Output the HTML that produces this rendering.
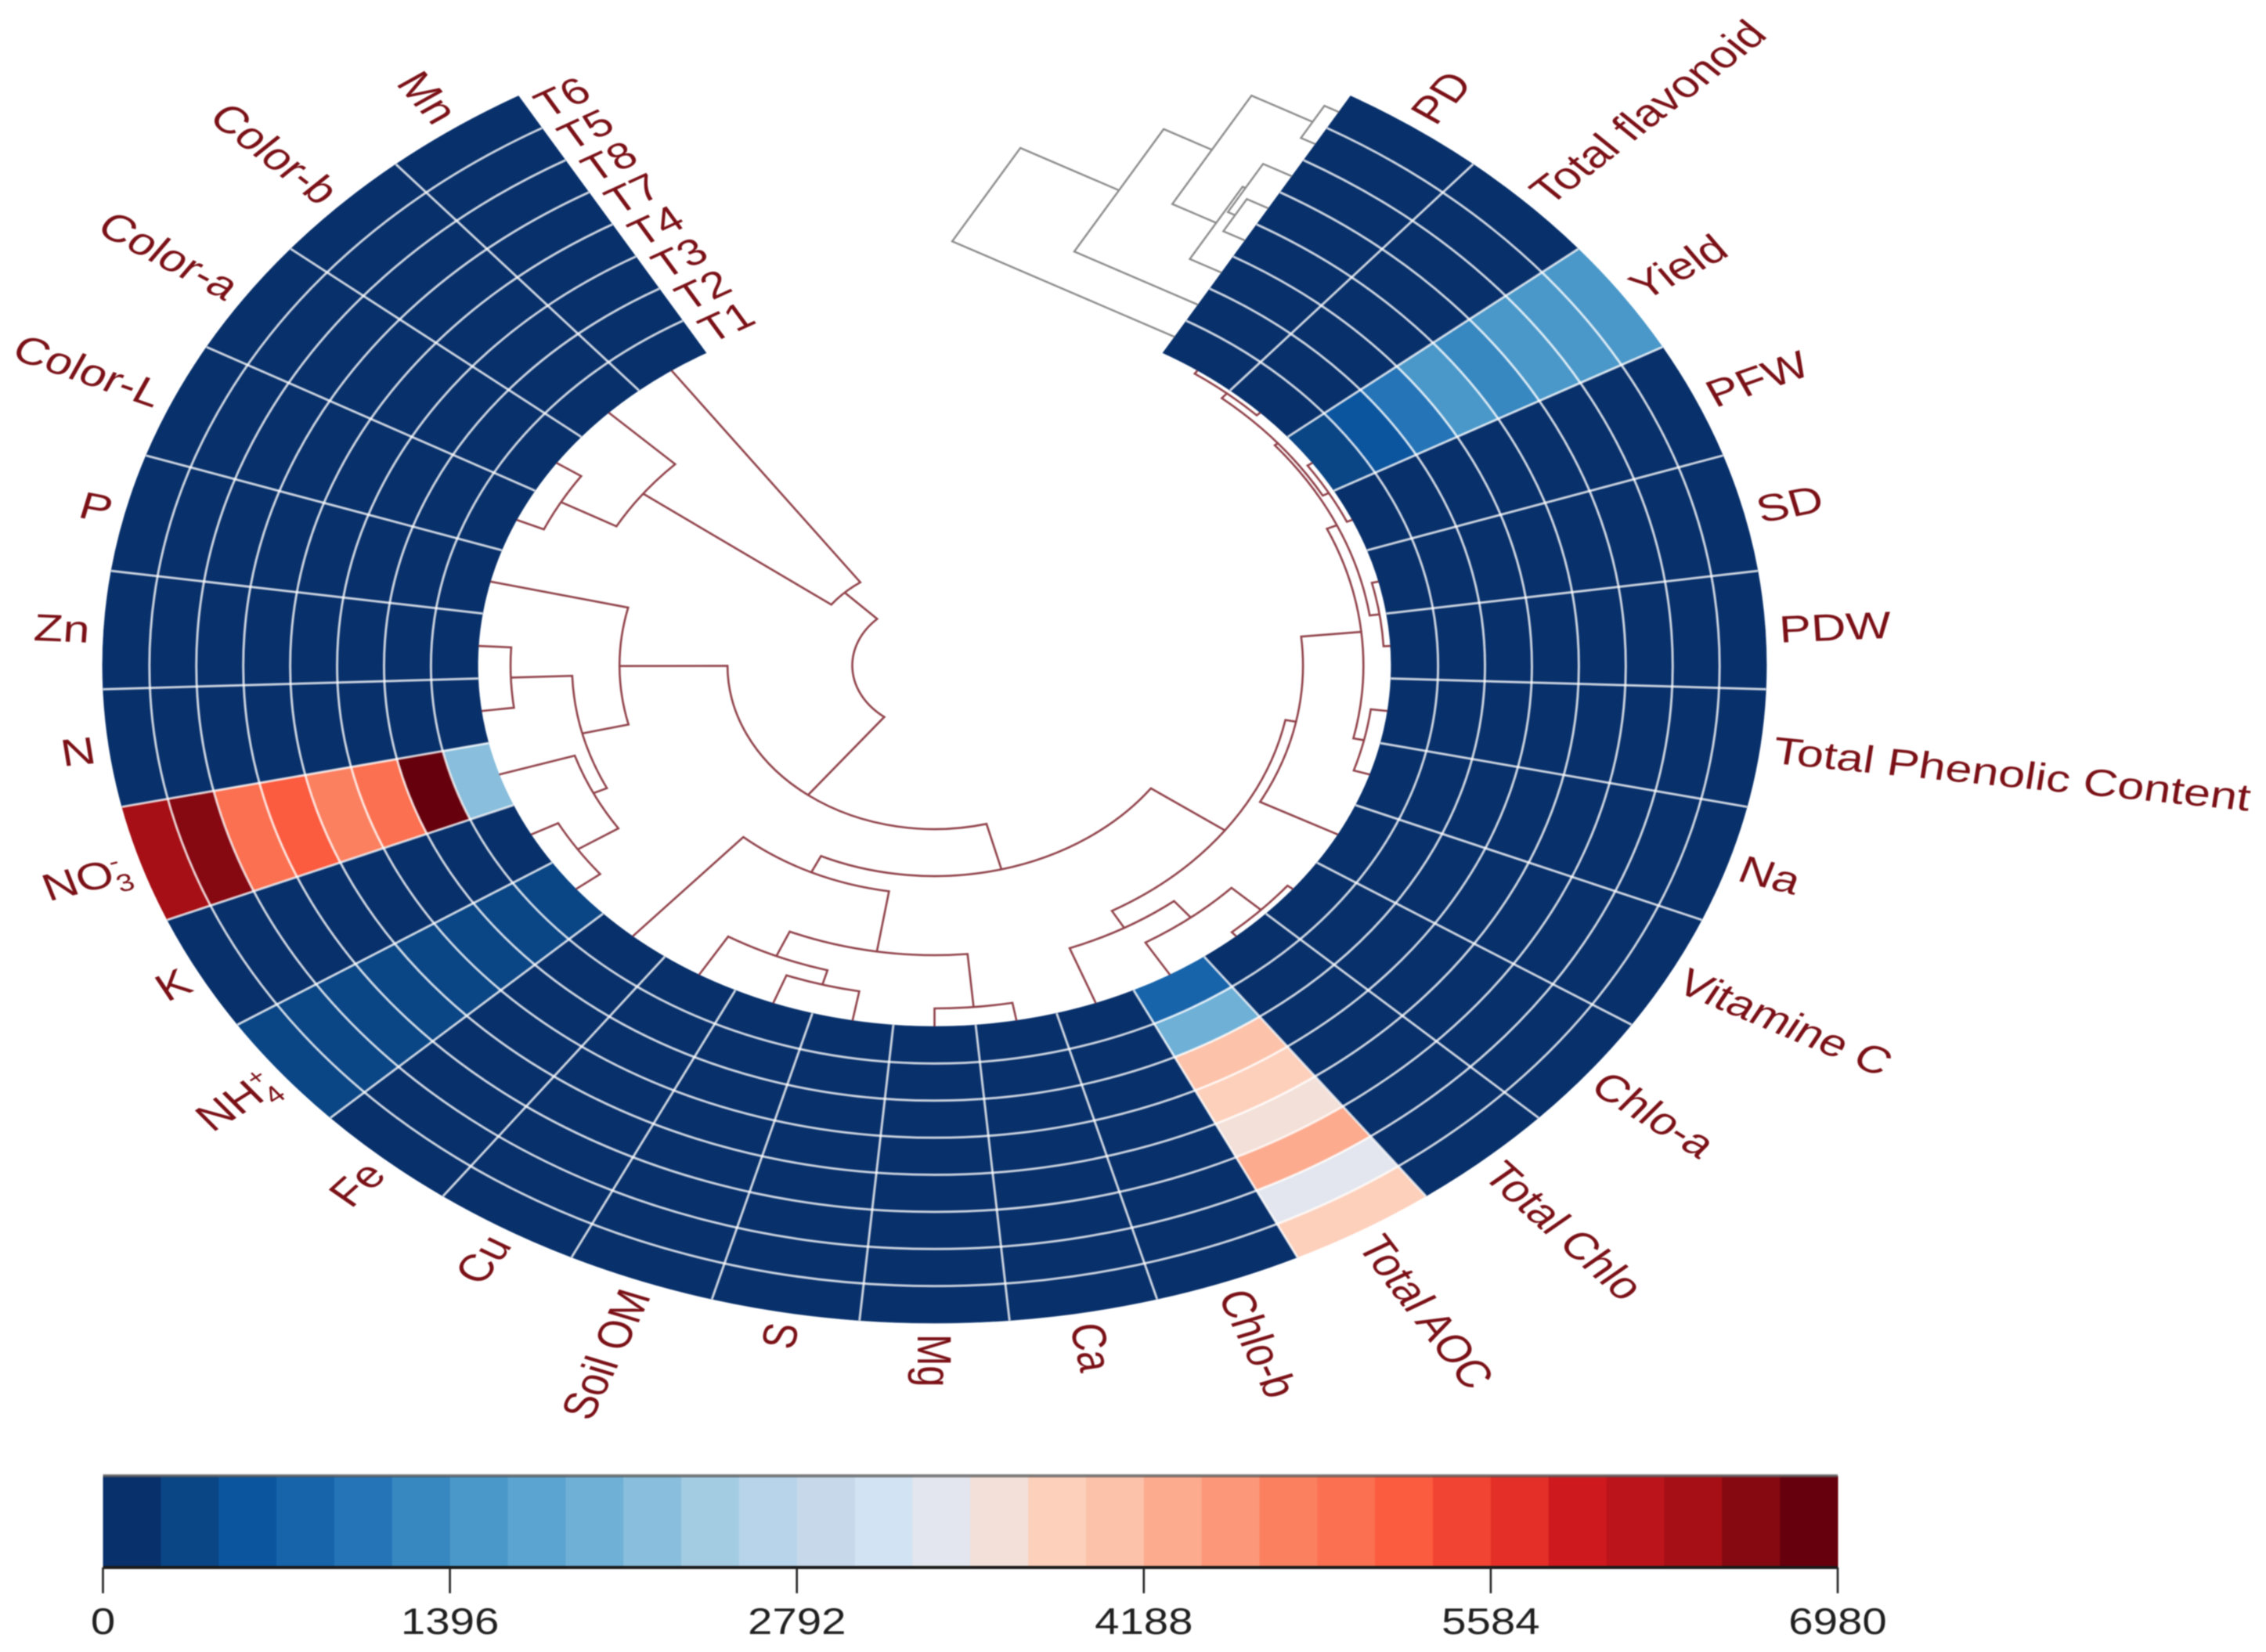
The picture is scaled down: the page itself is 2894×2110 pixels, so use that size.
<!DOCTYPE html>
<html lang="en">
<head>
<meta charset="utf-8">
<title>Circular clustered heatmap</title>
<style>
html,body{margin:0;padding:0;background:#fff;}
svg{display:block;filter:blur(0.7px);}
text{font-family:"Liberation Sans",Arial,sans-serif;}
</style>
</head>
<body>
<svg id="chart" xmlns="http://www.w3.org/2000/svg" width="2894" height="2110" viewBox="0 0 2894 2110">
<rect width="2894" height="2110" fill="#ffffff"/>
<g id="cells"></g>
<g id="columnTree"></g>
<g id="rowTree"></g>
<g id="columnLabels"></g>
<g id="rowLabels"></g>
<g id="colorbar"></g>
</svg>
<script>
const columns = ['Mn','Color-b','Color-a','Color-L','P','Zn','N','NO3','K','NH4','Fe','Cu','Soil OM','S','Mg','Ca','Chlo-b','Total AOC','Total Chlo','Chlo-a','Vitamine C','Na','Total Phenolic Content','PDW','SD','PFW','Yield','Total flavonoid','PD'];
const rows = ['T1','T2','T3','T4','T7','T8','T5','T6'];
const valuesT1 = [40,40,40,40,40,40,40,2200,60,350,40,40,40,40,40,40,40,820,40,40,40,40,40,40,40,40,350,40,40];
const valuesT2 = [40,40,40,40,40,40,40,6900,60,350,40,40,40,40,40,40,40,2000,40,40,40,40,40,40,40,40,580,40,40];
const valuesT3 = [40,40,40,40,40,40,40,4980,60,350,40,40,40,40,40,40,40,4070,40,40,40,40,40,40,40,40,1050,40,40];
const valuesT4 = [40,40,40,40,40,40,40,4750,60,350,40,40,40,40,40,40,40,3840,40,40,40,40,40,40,40,40,1500,40,40];
const valuesT7 = [40,40,40,40,40,40,40,5230,60,350,40,40,40,40,40,40,40,3600,40,40,40,40,40,40,40,40,1280,40,40];
const valuesT8 = [40,40,40,40,40,40,40,4980,60,350,40,40,40,40,40,40,40,4300,40,40,40,40,40,40,40,40,1500,40,40];
const valuesT5 = [40,40,40,40,40,40,40,6600,60,350,40,40,40,40,40,40,40,3350,40,40,40,40,40,40,40,40,1500,40,40];
const valuesT6 = [40,40,40,40,40,40,40,6400,60,350,40,40,40,40,40,40,40,3840,40,40,40,40,40,40,40,40,1500,40,40];
const matrix = [valuesT1,valuesT2,valuesT3,valuesT4,valuesT7,valuesT8,valuesT5,valuesT6];
const colorLevels = ['#08306b','#0a4585','#0b559f','#1764ab','#2474b7','#3787c0','#4a98c9','#5ba3d0','#6fb0d7','#89bedc','#a3cce3','#b7d4ea','#c6d8ea','#d2e3f3','#e3e6ee','#f3e0d8','#fdd0bc','#fcc2aa','#fcab8f','#fc9879','#fb8060','#fb7050','#fb5b3f','#f14432','#e32f27','#ce1a1e','#bb141a','#a50f15','#860811','#67000d'];
const legendTicks = [0,1396,2792,4188,5584,6980];
const legendMax = 6980;
/* nested merges: [merge height, left, right]; numbers are column indices */
const columnMerges = [378,[331,0,[94,1,[30,2,3]]],[252,[143,4,[95,[33,5,6],[80,7,[31,8,9]]]],[192,[169,10,[91,[57,11,[38,12,13]],[23,14,15]]],[100,[75,16,[48,17,[7,18,19]]],[89,20,[28,[17,21,22],[17,[7,23,24],[13,[6,25,26],[5,27,28]]]]]]]]];
/* nested merges: [merge height, left, right]; numbers are ring indices into rows */
const rowMerges = [309,[172,[105,[20,7,6],[44,[40,5,[30,4,3]],2]],1],0];

const NS = 'http://www.w3.org/2000/svg';
const CX = 1193.5, CY = 850, SX = 1.265, R_IN = 461, R_OUT = 840;
const GAP_START = -30, SPAN = 300;
const STEP = SPAN / columns.length;
const RING = (R_OUT - R_IN) / rows.length;
const EDGE_DIR = [-0.919, -0.395];

function el(tag, parent){ const e = document.createElementNS(NS, tag); parent.appendChild(e); return e; }
function rad(d){ return d * Math.PI / 180; }
function colEdge(i){ return GAP_START - i * STEP; }
function colMid(i){ return GAP_START - (i + 0.5) * STEP; }
function ringEdge(j){ return R_IN + j * RING; }
function px(theta, r){ return [CX + SX * r * Math.sin(rad(theta)), CY - r * Math.cos(rad(theta))]; }
function f(n){ return n.toFixed(2); }
function colorOf(v){ const k = Math.min(colorLevels.length - 1, Math.max(0, Math.floor(v / legendMax * colorLevels.length))); return colorLevels[k]; }
function arcTo(theta1, theta2, r){
  const p = px(theta2, r);
  const large = Math.abs(theta2 - theta1) > 180 ? 1 : 0;
  const sweep = theta2 > theta1 ? 1 : 0;
  return 'A' + f(SX * r) + ' ' + f(r) + ' 0 ' + large + ' ' + sweep + ' ' + f(p[0]) + ' ' + f(p[1]);
}

/* heatmap cells */
const cellsG = document.getElementById('cells');
matrix.forEach(function(rowVals, j){
  rowVals.forEach(function(v, i){
    const a = colEdge(i), b = colEdge(i + 1), r0 = ringEdge(j), r1 = ringEdge(j + 1);
    const p0 = px(a, r0), p1 = px(a, r1), p2 = px(b, r0);
    const path = el('path', cellsG);
    
    
    path.setAttribute('d', 'M' + f(p0[0]) + ' ' + f(p0[1]) + 'L' + f(p1[0]) + ' ' + f(p1[1]) + arcTo(a, b, r1) + 'L' + f(p2[0]) + ' ' + f(p2[1]) + arcTo(b, a, r0) + 'Z');
    path.setAttribute('fill', colorOf(v));
    path.setAttribute('stroke', colorOf(v));
    path.setAttribute('stroke-width', '0.6');
  });
});
/* white grid */
const gridG = el('g', cellsG);


gridG.setAttribute('fill', 'none');
gridG.setAttribute('stroke', '#ffffff');
gridG.setAttribute('stroke-opacity', '0.78');
gridG.setAttribute('stroke-width', '3');
for (let j = 1; j < rows.length; j++) {
  const p = px(colEdge(0), ringEdge(j));
  const ringLine = el('path', gridG);
  
  
  const e = colEdge(columns.length), m = colEdge(columns.length / 2);
  ringLine.setAttribute('d', 'M' + f(p[0]) + ' ' + f(p[1]) + arcTo(colEdge(0), m, ringEdge(j)) + arcTo(m, e, ringEdge(j)));
}
for (let i = 1; i < columns.length; i++) {
  const p0 = px(colEdge(i), R_IN), p1 = px(colEdge(i), R_OUT);
  const spoke = el('line', gridG);
  
  
  spoke.setAttribute('x1', f(p0[0])); spoke.setAttribute('y1', f(p0[1]));
  spoke.setAttribute('x2', f(p1[0])); spoke.setAttribute('y2', f(p1[1]));
}

/* column dendrogram (polar) */
const colTreeG = document.getElementById('columnTree');
function heightToRadius(h){ return R_IN - h; }
function drawColumnNode(node){
  if (typeof node === 'number') return {theta: colMid(node), r: R_IN};
  const r = heightToRadius(node[0]);
  const a = drawColumnNode(node[1]), b = drawColumnNode(node[2]);
  const pa = px(a.theta, a.r), pb = px(b.theta, b.r), qa = px(a.theta, r);
  const link = el('path', colTreeG);
  
  
  link.setAttribute('d', 'M' + f(pa[0]) + ' ' + f(pa[1]) + 'L' + f(qa[0]) + ' ' + f(qa[1]) + arcTo(a.theta, b.theta, r) + 'L' + f(pb[0]) + ' ' + f(pb[1]));
  link.setAttribute('fill', 'none');
  link.setAttribute('stroke', '#8f4048');
  link.setAttribute('stroke-width', '2.6');
  link.setAttribute('stroke-linejoin', 'miter');
  return {theta: (a.theta + b.theta) / 2, r: r};
}
drawColumnNode(columnMerges);

/* row dendrogram (straight, attached to gap edge) */
const rowTreeG = document.getElementById('rowTree');
function rowPoint(t, h){
  const e = px(30, t);
  return [e[0] + EDGE_DIR[0] * h, e[1] + EDGE_DIR[1] * h];
}
function drawRowNode(node){
  if (typeof node === 'number') return {t: ringEdge(node) + RING / 2, h: 0};
  const h = node[0];
  const a = drawRowNode(node[1]), b = drawRowNode(node[2]);
  const a0 = rowPoint(a.t, a.h), a1 = rowPoint(a.t, h), b1 = rowPoint(b.t, h), b0 = rowPoint(b.t, b.h);
  const link = el('polyline', rowTreeG);
  
  
  link.setAttribute('points', [a0, a1, b1, b0].map(function(p){ return f(p[0]) + ',' + f(p[1]); }).join(' '));
  link.setAttribute('fill', 'none');
  link.setAttribute('stroke', '#8a8a8a');
  link.setAttribute('stroke-width', '2.4');
  return {t: (a.t + b.t) / 2, h: h};
}
drawRowNode(rowMerges);

/* column labels */
const LABEL_COLOR = '#7a1016';
const LABEL_R = 854;
const LABEL_SIZE = 48.5;
const colLabelG = document.getElementById('columnLabels');
columns.forEach(function(name, i){
  const theta = colMid(i);
  const leftSide = theta > -180;
  const rot = leftSide ? theta + 90 : theta - 90;
  const shift = leftSide ? -LABEL_R : LABEL_R;
  const t = el('text', colLabelG);
  
  
  t.setAttribute('transform', 'translate(' + CX + ' ' + CY + ') scale(' + SX + ' 1) rotate(' + f(rot) + ') translate(' + shift + ' 0)');
  t.setAttribute('text-anchor', leftSide ? 'end' : 'start');
  t.setAttribute('y', '17');
  t.setAttribute('font-size', LABEL_SIZE);
  t.setAttribute('fill', LABEL_COLOR);
  if (name === 'NO3' || name === 'NH4') {
    t.appendChild(document.createTextNode(name.slice(0, 2)));
    const sup = el('tspan', t);
    sup.setAttribute('font-size', '29');
    sup.setAttribute('dy', '-19');
    sup.textContent = name === 'NO3' ? '-' : '+';
    const sub = el('tspan', t);
    sub.setAttribute('font-size', '31');
    sub.setAttribute('dx', name === 'NO3' ? '-10' : '-16');
    sub.setAttribute('dy', '30');
    sub.textContent = name.slice(2);
  } else {
    t.textContent = name;
  }
});

/* row labels */
const rowLabelG = document.getElementById('rowLabels');
rows.forEach(function(name, j){
  const r = ringEdge(j) + RING / 2;
  const t = el('text', rowLabelG);
  
  
  t.setAttribute('transform', 'translate(' + CX + ' ' + CY + ') scale(' + SX + ' 1) rotate(' + (-30) + ') translate(0 ' + f(-r) + ')');
  t.setAttribute('x', '10');
  t.setAttribute('y', '16');
  t.setAttribute('font-size', '47');
  t.setAttribute('fill', LABEL_COLOR);
  t.textContent = name;
});

/* colour legend */
const BAR_X0 = 131.5, BAR_X1 = 2347, BAR_TOP = 1885, BAR_BOTTOM = 2002;
function legendX(v){ return BAR_X0 + (BAR_X1 - BAR_X0) * v / legendMax; }
const barG = document.getElementById('colorbar');
colorLevels.forEach(function(c, k){
  const x0 = legendX(k * legendMax / colorLevels.length), x1 = legendX((k + 1) * legendMax / colorLevels.length);
  const r = el('rect', barG);
  
  
  r.setAttribute('x', f(x0));
  r.setAttribute('y', BAR_TOP);
  r.setAttribute('width', f(x1 - x0 + 0.5));
  r.setAttribute('height', BAR_BOTTOM - BAR_TOP);
  r.setAttribute('fill', c);
});
const barTop = el('line', barG);


barTop.setAttribute('x1', BAR_X0); barTop.setAttribute('x2', BAR_X1);
barTop.setAttribute('y1', BAR_TOP); barTop.setAttribute('y2', BAR_TOP);
barTop.setAttribute('stroke', '#555555');
barTop.setAttribute('stroke-opacity', '0.75');
barTop.setAttribute('stroke-width', '4');
const barBottom = el('line', barG);


barBottom.setAttribute('x1', BAR_X0); barBottom.setAttribute('x2', BAR_X1);
barBottom.setAttribute('y1', BAR_BOTTOM); barBottom.setAttribute('y2', BAR_BOTTOM);
barBottom.setAttribute('stroke', '#1a1a1a');
barBottom.setAttribute('stroke-width', '4');
legendTicks.forEach(function(v){
  const x = legendX(v);
  const tick = el('line', barG);
  
  
  tick.setAttribute('x1', f(x)); tick.setAttribute('x2', f(x));
  tick.setAttribute('y1', BAR_BOTTOM); tick.setAttribute('y2', '2035');
  tick.setAttribute('stroke', '#222222');
  tick.setAttribute('stroke-width', '2.6');
  const label = el('text', barG);
  
  
  label.setAttribute('transform', 'translate(' + f(x) + ' 2087) scale(1.2 1)');
  label.setAttribute('text-anchor', 'middle');
  label.setAttribute('font-size', '47');
  label.setAttribute('fill', '#1f1f1f');
  label.textContent = String(v);
});
</script>
</body>
</html>
